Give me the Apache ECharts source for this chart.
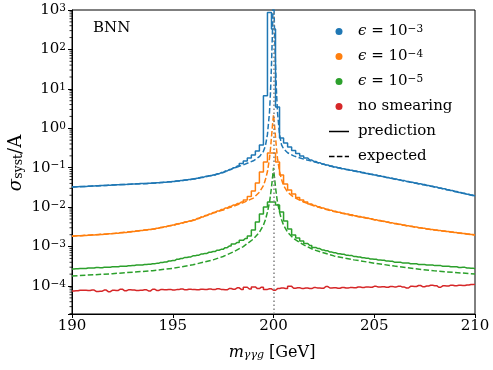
<!DOCTYPE html>
<html><head><meta charset="utf-8">
<script src="https://cdn.jsdelivr.net/npm/echarts@6/dist/echarts.min.js"></script>
<style>html,body{margin:0;padding:0;background:#fff}#c{width:493px;height:370px}</style>
</head><body><div id="c"></div>
<script>
// histogram bins: 0.2 GeV wide, centred on 190.0 ... 210.0
const binStart = 190, binWidth = 0.2, nBins = 101;
const binCenters = Array.from({length: nBins}, (_, i) => +(binStart + binWidth * i).toFixed(1));

const predE3 = [
0.0324,0.0328,0.0332,0.0336,0.0340,0.0344,0.0348,0.0352,0.0356,0.0360,
0.0365,0.0369,0.0374,0.0378,0.0382,0.0386,0.0391,0.0396,0.0400,0.0405,
0.0410,0.0417,0.0424,0.0431,0.0439,0.0447,0.0460,0.0474,0.0488,0.0502,
0.0517,0.0542,0.0567,0.0595,0.0623,0.0653,0.0701,0.0756,0.0825,0.0900,
0.0995,0.1105,0.128,0.148,0.176,0.210,0.265,0.377,6.7,870,
330,
3.47,0.57,0.424,0.335,0.273,0.229,0.198,0.176,0.157,0.144,
0.134,0.125,0.117,0.1105,0.1042,0.0995,0.0948,0.0904,0.0864,0.0825,
0.0787,0.0751,0.0716,0.0684,0.0653,0.0623,0.0595,0.0567,0.0542,0.0517,
0.0493,0.0471,0.0449,0.0429,0.0410,0.0391,0.0374,0.0356,0.0340,0.0324,
0.0308,0.0292,0.0277,0.0263,0.0249,0.0236,0.0224,0.0212,0.0202,0.0192];

const predE4 = [
0.00185,0.00187,0.00189,0.00191,0.00194,0.00196,0.00199,0.00203,0.00206,0.00210,
0.00214,0.00219,0.00224,0.00229,0.00234,0.00240,0.00247,0.00254,0.00262,0.00270,
0.00278,0.00292,0.00306,0.00320,0.00336,0.00352,0.00373,0.00395,0.00419,0.00444,
0.00471,0.00514,0.00561,0.00613,0.00669,0.00730,0.00797,0.00870,0.00950,0.0104,
0.0113,0.0123,0.0135,0.0152,0.0186,0.0257,0.0410,0.0778,0.140,0.236,
0.236,
0.140,0.0653,0.0386,0.0272,0.0215,0.0176,0.0152,0.0135,0.0120,0.0110,
0.0102,0.00950,0.00887,0.00830,0.00783,0.00743,0.00705,0.00669,0.00639,0.00609,
0.00581,0.00554,0.00529,0.00505,0.00482,0.00460,0.00439,0.00419,0.00400,0.00384,
0.00368,0.00354,0.00339,0.00326,0.00313,0.00302,0.00292,0.00281,0.00272,0.00262,
0.00254,0.00247,0.00240,0.00233,0.00226,0.00220,0.00214,0.00208,0.00202,0.00196];

const predE5 = [
2.70e-4,2.74e-4,2.79e-4,2.78e-4,2.86e-4,2.85e-4,2.93e-4,2.92e-4,2.99e-4,3.01e-4,
3.06e-4,3.08e-4,3.17e-4,3.18e-4,3.28e-4,3.30e-4,3.39e-4,3.41e-4,3.52e-4,3.55e-4,
3.65e-4,3.75e-4,3.96e-4,4.07e-4,4.30e-4,4.42e-4,4.78e-4,5.00e-4,5.30e-4,5.47e-4,
5.82e-4,6.05e-4,6.46e-4,6.72e-4,7.18e-4,7.48e-4,8.08e-4,8.50e-4,9.40e-4,1.03e-3,
1.17e-3,1.27e-3,1.44e-3,1.61e-3,1.86e-3,2.62e-3,4.19e-3,6.69e-3,0.0101,0.0135,
0.0135,
0.0113,0.00752,0.00444,0.00278,0.00196,0.00165,0.00139,0.00120,1.07e-3,9.5e-4,
8.9e-4,8.2e-4,7.8e-4,7.25e-4,6.95e-4,6.58e-4,6.40e-4,6.05e-4,5.90e-4,5.58e-4,
5.46e-4,5.19e-4,5.09e-4,4.83e-4,4.75e-4,4.54e-4,4.49e-4,4.28e-4,4.23e-4,4.03e-4,
4.01e-4,3.86e-4,3.83e-4,3.68e-4,3.65e-4,3.53e-4,3.52e-4,3.40e-4,3.40e-4,3.29e-4,
3.29e-4,3.17e-4,3.18e-4,3.07e-4,3.07e-4,2.96e-4,2.97e-4,2.86e-4,2.84e-4,2.75e-4];

const predNoSmear = [
7.5e-5,7.6e-5,7.8e-5,7.8e-5,7.7e-5,7.9e-5,7.3e-5,7.4e-5,7.9e-5,7.2e-5,
7.8e-5,7.7e-5,8.3e-5,7.6e-5,8.0e-5,7.9e-5,7.7e-5,7.8e-5,8.0e-5,7.5e-5,
8.3e-5,7.7e-5,8.1e-5,8.0e-5,8.2e-5,7.9e-5,8.1e-5,8.4e-5,8.0e-5,8.3e-5,
8.1e-5,8.0e-5,8.3e-5,8.2e-5,8.4e-5,8.1e-5,8.5e-5,8.2e-5,8.0e-5,8.6e-5,
8.3e-5,9.0e-5,8.2e-5,9.3e-5,8.4e-5,9.5e-5,8.6e-5,9.3e-5,8.2e-5,8.5e-5,
7.8e-5,
8.6e-5,8.9e-5,8.7e-5,9.8e-5,8.8e-5,9.0e-5,8.7e-5,8.9e-5,8.6e-5,9.1e-5,
8.9e-5,8.8e-5,9.7e-5,8.9e-5,9.0e-5,8.8e-5,9.2e-5,8.9e-5,9.1e-5,9.0e-5,
9.4e-5,9.2e-5,9.5e-5,9.3e-5,9.8e-5,9.4e-5,9.6e-5,9.3e-5,9.7e-5,9.5e-5,
9.9e-5,9.4e-5,8.9e-5,9.8e-5,9.7e-5,1.03e-4,9.6e-5,1.00e-4,1.04e-4,1.02e-4,
9.3e-5,1.01e-4,1.00e-4,1.05e-4,1.02e-4,1.04e-4,1.03e-4,1.06e-4,1.09e-4,1.10e-4];

// expected curves (dashed), sampled at expX
const expX = [190,192,194,195,196,197,197.5,198,198.5,199,199.3,199.5,199.6,199.7,199.8,199.85,199.9,199.95,200,
              200.05,200.1,200.15,200.2,200.3,200.4,200.5,200.7,201,201.5,202,203,204,205,206,207,208,209,210];
const expE3 = [0.0322,0.0363,0.0405,0.0445,0.0515,0.065,0.075,0.096,0.118,0.15,0.19,0.26,0.36,0.7,2.5,8,40,300,5000,
               300,40,8,2.5,0.7,0.38,0.3,0.24,0.2,0.165,0.142,0.104,0.0825,0.0653,0.0517,0.041,0.0324,0.0249,0.0191];
const expE4 = [0.00184,0.00213,0.00276,0.0035,0.0046,0.0071,0.0085,0.0105,0.013,0.017,0.024,0.035,0.05,0.08,0.17,0.3,0.6,1.2,2.2,
               1.2,0.6,0.3,0.17,0.08,0.05,0.035,0.024,0.018,0.0135,0.0108,0.0077,0.0060,0.0048,0.00383,0.00312,0.00262,0.00226,0.00196];
const expE5 = [1.80e-4,2.05e-4,2.45e-4,2.8e-4,3.45e-4,4.6e-4,5.6e-4,7.3e-4,1.0e-3,1.55e-3,2.3e-3,3.5e-3,4.8e-3,7.5e-3,0.013,0.02,0.032,0.055,0.1,
               0.055,0.032,0.02,0.013,7.5e-3,4.8e-3,3.5e-3,2.3e-3,1.6e-3,1.1e-3,8.3e-4,5.8e-4,4.6e-4,3.8e-4,3.2e-4,2.75e-4,2.42e-4,2.2e-4,2.02e-4];

const xTicks = [190, 195, 200, 205, 210];
const yMin = 1.95e-5, yMax = 1000;
const peakMass = 200;

const FONT = 'DejaVu Serif';
const COL = {e3:'#1f77b4', e4:'#ff7f0e', e5:'#2ca02c', ns:'#d62728'};
const pairs = (xs, ys) => xs.map((x, i) => [x, ys[i]]);

// matplotlib-style log minor ticks (2..9 x 10^k)
const minorTickVals = [];
for (let e = -5; e < 3; e++) for (let m = 2; m < 10; m++) {
  const v = m * Math.pow(10, e);
  if (v >= yMin && v <= yMax) minorTickVals.push(v);
}

const supRich = {
  b: {fontFamily: FONT, fontSize: 15, lineHeight: 15, verticalAlign: 'middle', color: '#000'},
  i: {fontFamily: FONT, fontSize: 15, lineHeight: 15, fontStyle: 'italic', verticalAlign: 'middle', color: '#000', padding: [0, 0, 0, 4]},
  p: {fontFamily: FONT, fontSize: 15, lineHeight: 15, verticalAlign: 'middle', color: '#000', padding: [0, 0, 0, 4]},
  sup: {fontFamily: FONT, fontSize: 10.5, lineHeight: 10, padding: [0, 0, 12, 0], verticalAlign: 'top', color: '#000'}
};
const tickRich = {
  b: {fontFamily: FONT, fontSize: 15, lineHeight: 15, verticalAlign: 'middle', color: '#000'},
  sup: {fontFamily: FONT, fontSize: 10.5, lineHeight: 10, padding: [0, 0, 12, 0], verticalAlign: 'top', color: '#000'}
};

const legendLabels = {
  e3: '{i|ϵ}{b| = 10}{sup|−3}',
  e4: '{i|ϵ}{b| = 10}{sup|−4}',
  e5: '{i|ϵ}{b| = 10}{sup|−5}',
  ns: '{p|no smearing}{sup| }',
  pred: '{p|prediction}{sup| }',
  exp: '{p|expected}{sup| }'
};

function stepSeries(name, data, color) {
  return {name, type: 'line', step: 'middle', data: pairs(binCenters, data), symbol: 'none',
    lineStyle: {color, width: 1.5}, itemStyle: {color}, clip: true, z: 3};
}
function expSeries(name, data, color) {
  return {name, type: 'line', data: pairs(expX, data), symbol: 'none',
    lineStyle: {color, width: 1.5, type: [5.5, 2.4]}, itemStyle: {color}, clip: true, z: 4};
}

const chart = echarts.init(document.getElementById('c'), null, {renderer: 'canvas'});
chart.setOption({
  animation: false,
  backgroundColor: '#fff',
  grid: {left: 72, right: 18, top: 10, bottom: 56, show: true, borderColor: '#000', borderWidth: 1, backgroundColor: 'transparent'},
  xAxis: {
    type: 'value', min: xTicks[0], max: xTicks[xTicks.length - 1], interval: 5,
    axisLine: {lineStyle: {color: '#000', width: 1}},
    axisTick: {show: true, inside: false, length: 4, lineStyle: {color: '#000', width: 1}},
    axisLabel: {color: '#000', fontFamily: FONT, fontSize: 15, margin: 5},
    splitLine: {show: false}
  },
  yAxis: {
    type: 'log', min: yMin, max: yMax, logBase: 10,
    axisLine: {lineStyle: {color: '#000', width: 1}},
    axisTick: {show: true, inside: false, length: 4, lineStyle: {color: '#000', width: 1}},
    minorTick: {show: false},
    splitLine: {show: false},
    axisLabel: {
      margin: 6, color: '#000', fontFamily: FONT, fontSize: 15,
      formatter: v => {
        const e = Math.log10(v), r = Math.round(e);
        if (Math.abs(e - r) > 1e-6) return '';
        return '{b|10}{sup|' + (r < 0 ? '−' + (-r) : r) + '}';
      },
      rich: tickRich
    }
  },
  legend: {
    orient: 'vertical', left: 329, top: 24, padding: 0, itemGap: 2,
    itemWidth: 20, itemHeight: 7, selectedMode: false,
    data: [
      {name: 'e3', icon: 'circle'}, {name: 'e4', icon: 'circle'}, {name: 'e5', icon: 'circle'}, {name: 'ns', icon: 'circle'},
      {name: 'pred', icon: 'path://M0,0h20v1.5h-20z'},
      {name: 'exp', icon: 'path://M0,0h5.5v1.5h-5.5zM7.9,0h5.5v1.5h-5.5zM15.8,0h4.2v1.5h-4.2z'}
    ],
    formatter: n => legendLabels[n],
    textStyle: {fontFamily: FONT, fontSize: 15, color: '#000', rich: supRich}
  },
  graphic: [
    {type: 'text', left: 93, top: 21, style: {text: 'BNN', fontFamily: FONT, fontSize: 15, fill: '#000'}},
    {type: 'text', x: 272, y: 353, silent: true, style: {
      text: '{i|m}{sub|γγg}{b| [GeV]}', align: 'center', verticalAlign: 'middle',
      rich: {
        i: {fontFamily: FONT, fontSize: 16, fontStyle: 'italic', lineHeight: 16, verticalAlign: 'top', fill: '#000'},
        sub: {fontFamily: FONT, fontSize: 11, fontStyle: 'italic', lineHeight: 11, padding: [8, 0, 0, 0], verticalAlign: 'bottom', fill: '#000'},
        b: {fontFamily: FONT, fontSize: 16, lineHeight: 16, verticalAlign: 'top', fill: '#000'}
      }}},
    {type: 'text', x: 16, y: 163, rotation: Math.PI / 2, silent: true, style: {
      text: '{i|σ}{sub|syst}{b|/A}', align: 'center', verticalAlign: 'middle',
      rich: {
        i: {fontFamily: FONT, fontSize: 18, fontStyle: 'italic', lineHeight: 18, verticalAlign: 'top', fill: '#000'},
        sub: {fontFamily: FONT, fontSize: 12.5, lineHeight: 12, padding: [9, 0, 0, 0], verticalAlign: 'bottom', fill: '#000'},
        b: {fontFamily: FONT, fontSize: 18, lineHeight: 18, verticalAlign: 'top', fill: '#000'}
      }}}
  ],
  series: [
    stepSeries('e3', predE3, COL.e3), expSeries('x3', expE3, COL.e3),
    stepSeries('e4', predE4, COL.e4), expSeries('x4', expE4, COL.e4),
    stepSeries('e5', predE5, COL.e5), expSeries('x5', expE5, COL.e5),
    Object.assign(stepSeries('ns', predNoSmear, COL.ns), {
      markLine: {silent: true, symbol: ['none', 'none'], label: {show: false},
        lineStyle: {color: '#808080', width: 1.5, type: [1.5, 2.5]}, data: [{xAxis: peakMass}]}
    }),
    {name: 'pred', type: 'line', data: [], symbol: 'none', lineStyle: {color: '#000', width: 1.5}, itemStyle: {color: '#000'}},
    {name: 'exp', type: 'line', data: [], symbol: 'none', lineStyle: {color: '#000', width: 1.5, type: [5.5, 2.4]}, itemStyle: {color: '#000'}},
    {type: 'custom', silent: true, clip: false, z: 10, data: minorTickVals.map(v => [xTicks[0], v]),
      renderItem: (params, api) => {
        const p = api.coord([api.value(0), api.value(1)]);
        return {type: 'line', shape: {x1: p[0] - 2.5, y1: p[1], x2: p[0], y2: p[1]}, style: {stroke: '#000', lineWidth: 0.8}};
      }}
  ]
});
</script></body></html>
